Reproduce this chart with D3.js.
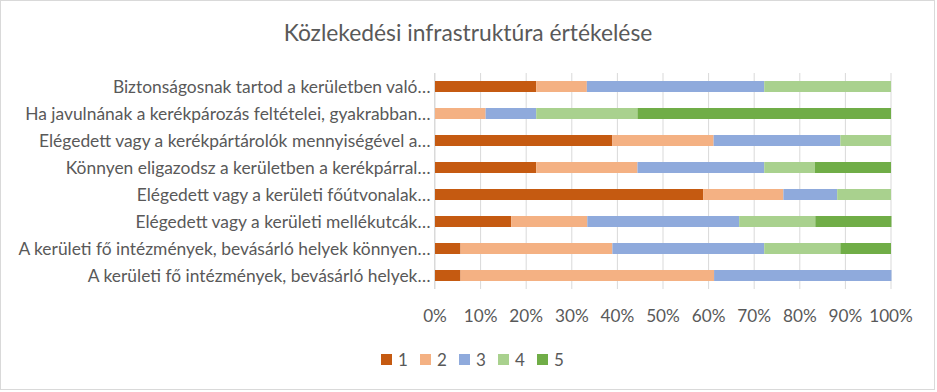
<!DOCTYPE html>
<html>
<head>
<meta charset="utf-8">
<script src="https://cdn.jsdelivr.net/npm/d3@7"></script>
<style>
  html, body { margin: 0; padding: 0; background: #fff; }
  svg { display: block; font-family: Lato, "Open Sans", sans-serif; }
</style>
</head>
<body>
<svg id="chart" width="937" height="392"></svg>
<script>
const title = "Közlekedési infrastruktúra értékelése";
const categories = [
  "Biztonságosnak tartod a kerületben való…",
  "Ha javulnának a kerékpározás feltételei, gyakrabban…",
  "Elégedett vagy a kerékpártárolók mennyiségével a…",
  "Könnyen eligazodsz a kerületben a kerékpárral…",
  "Elégedett vagy a kerületi főútvonalak…",
  "Elégedett vagy a kerületi mellékutcák…",
  "A kerületi fő intézmények, bevásárló helyek könnyen…",
  "A kerületi fő intézmények, bevásárló helyek…"
];
const seriesNames = ["1", "2", "3", "4", "5"];
const s1 = [22.2, 0.0, 38.9, 22.2, 58.8, 16.7, 5.6, 5.6];
const s2 = [11.1, 11.1, 22.2, 22.2, 17.6, 16.7, 33.3, 55.6];
const s3 = [38.9, 11.1, 27.8, 27.8, 11.8, 33.3, 33.3, 38.9];
const s4 = [27.8, 22.2, 11.1, 11.1, 11.8, 16.7, 16.7, 0.0];
const s5 = [0.0, 55.6, 0.0, 16.7, 0.0, 16.7, 11.1, 0.0];
const tickValues = [0, 10, 20, 30, 40, 50, 60, 70, 80, 90, 100];
const colors = ["#C55A11", "#F4B183", "#8FAADC", "#A9D18E", "#70AD47"];

const seriesValues = [s1, s2, s3, s4, s5];
const rows = categories.map((c, i) => {
  const o = { cat: c };
  seriesNames.forEach((k, j) => { o[k] = seriesValues[j][i]; });
  return o;
});

const svg = d3.select("#chart");
const textColor = "#595959";

// chart border
svg.append("rect").attr("x", 0.5).attr("y", 0.5).attr("width", 934).attr("height", 389)
  .attr("fill", "#fff").attr("stroke", "#D9D9D9");

const x = d3.scaleLinear().domain([0, 100]).range([434.5, 890.5]);
const y = d3.scaleBand().domain(categories).range([73, 289]).paddingInner(16 / 27).paddingOuter(8 / 27);

// title
svg.append("text").attr("x", 468).attr("y", 41).attr("text-anchor", "middle")
  .attr("font-size", 22.8).attr("fill", textColor).text(title);

// gridlines + percentage axis
const xAxis = d3.axisBottom(x).tickValues(tickValues).tickFormat(d => d + "%").tickSize(0).tickPadding(0);
const gx = svg.append("g").attr("transform", "translate(0,289)").call(xAxis);
gx.select(".domain").remove();
gx.selectAll(".tick text").attr("y", 33).attr("dy", 0).attr("font-size", 17.2).attr("fill", textColor)
  .attr("font-family", "Lato, sans-serif");
gx.selectAll(".tick").append("line").attr("x1", 0).attr("x2", 0).attr("y1", -216).attr("y2", 0)
  .attr("stroke", "#D9D9D9").attr("stroke-width", 1);
gx.selectAll(".tick").lower();

// bars
const stack = d3.stack().keys(seriesNames);
const stacked = stack(rows);
svg.append("g").selectAll("g").data(stacked).join("g")
  .attr("fill", (d, i) => colors[i])
  .selectAll("rect").data(d => d).join("rect")
  .attr("x", d => x(d[0]) + 0.5)
  .attr("width", d => Math.max(0, x(d[1]) - x(d[0])))
  .attr("y", d => y(d.data.cat))
  .attr("height", y.bandwidth());

// category axis
const yAxis = d3.axisLeft(y).tickSize(0).tickPadding(4);
const gy = svg.append("g").attr("transform", "translate(434.5,0)").call(yAxis);
gy.select(".domain").attr("stroke", "#D9D9D9").attr("d", "M0,73V289");
gy.selectAll(".tick text").attr("font-size", 17.4).attr("fill", textColor)
  .attr("font-family", "Lato, sans-serif").attr("dy", "0.4em");

// legend
const legend = svg.append("g");
const legX = [381, 420, 459, 498, 537];
seriesNames.forEach((k, i) => {
  const g = legend.append("g").attr("transform", `translate(${legX[i]},354)`);
  g.append("rect").attr("width", 11).attr("height", 11).attr("fill", colors[i]);
  g.append("text").attr("x", 17).attr("y", 12).attr("font-size", 17).attr("fill", textColor).text(k);
});
</script>
</body>
</html>
